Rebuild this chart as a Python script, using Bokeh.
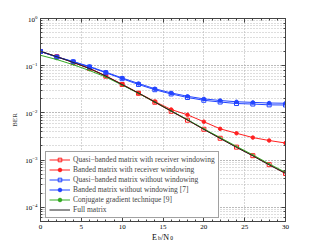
from bokeh.plotting import figure
from bokeh.models import (LinearAxis, LogAxis, SingleIntervalTicker, CustomJSTickFormatter,
                          FixedTicker, Legend, LogTicker)
from bokeh.embed import file_html
from bokeh.resources import INLINE

snr = [0, 2, 4, 6, 8, 10, 12, 14, 16, 18, 20, 22, 24, 26, 28, 30]

quasi_win = [0.2, 0.155, 0.117, 0.087, 0.060, 0.040, 0.026, 0.0168, 0.0108, 0.0070,
             0.0045, 0.0029, 0.00188, 0.00124, 0.00080, 0.00052]
banded_win = [0.2, 0.156, 0.119, 0.088, 0.061, 0.0405, 0.0265, 0.0174, 0.0118, 0.0091,
              0.0065, 0.0046, 0.0037, 0.0030, 0.0026, 0.0023]
quasi_nowin = [0.2, 0.152, 0.121, 0.094, 0.071, 0.053, 0.040, 0.031, 0.0252, 0.0212,
               0.0185, 0.0170, 0.0158, 0.0154, 0.0148, 0.0147]
banded_nowin = [0.2, 0.154, 0.123, 0.096, 0.073, 0.055, 0.042, 0.0325, 0.0265, 0.0225,
                0.0198, 0.0183, 0.0172, 0.0167, 0.0162, 0.0160]
conj_grad = [0.166, 0.135, 0.105, 0.079, 0.0575, 0.039, 0.026, 0.017, 0.011, 0.0072,
             0.0046, 0.0030, 0.00195, 0.00129, 0.00083, 0.00055]
full_matrix = [0.2018, 0.155, 0.1175, 0.0871, 0.0603, 0.0398, 0.0263, 0.0170, 0.01096,
               0.00708, 0.00447, 0.00288, 0.00186, 0.00123, 0.00079, 0.000525]

labels = ["Quasi\u2212banded matrix with receiver windowing",
          "Banded matrix with receiver windowing",
          "Quasi\u2212banded matrix without windowing",
          "Banded matrix without windowing [7]",
          "Conjugate gradient technique [9]",
          "Full matrix"]

# x-axis title "E_b/N_0" split into main text and subscripts
xlabel_main = ["E", "/N"]
xlabel_main_pos = [13.95, 15.25]
xlabel_sub = ["b", "0"]
xlabel_sub_pos = [14.55, 16.05]

RED = "#ff2020"
BLUE = "#2244ff"
GREEN = "#33aa22"
BLACK = "#222222"
FONT = "Liberation Serif"

p = figure(width=300, height=246, y_axis_type="log", x_range=(0, 30), y_range=(5e-5, 1),
           output_backend="svg", toolbar_location=None,
           min_border_left=40, min_border_right=15, min_border_top=18, min_border_bottom=25)
p.background_fill_color = "white"
p.border_fill_color = "white"
p.outline_line_color = "#444444"

r1l = p.line(snr, quasi_win, color=RED, line_width=1)
r1m = p.scatter(snr, quasi_win, marker="square", size=4, line_color=RED, fill_color=None, line_width=1)
r2l = p.line(snr, banded_win, color=RED, line_width=1)
r2m = p.scatter(snr, banded_win, marker="circle", size=3.5, line_color=RED, fill_color=RED)
r3l = p.line(snr, quasi_nowin, color=BLUE, line_width=1)
r3m = p.scatter(snr, quasi_nowin, marker="square", size=4, line_color=BLUE, fill_color=None, line_width=1)
r4l = p.line(snr, banded_nowin, color=BLUE, line_width=1)
r4m = p.scatter(snr, banded_nowin, marker="circle", size=3.5, line_color=BLUE, fill_color=BLUE)
r5l = p.line(snr, conj_grad, color=GREEN, line_width=1)
r5m = p.scatter(snr, conj_grad, marker="circle", size=1, line_color=GREEN, fill_color=GREEN)
r6l = p.line(snr, full_matrix, color=BLACK, line_width=1)

legend = Legend(items=[(labels[0], [r1l, r1m]), (labels[1], [r2l, r2m]),
                       (labels[2], [r3l, r3m]), (labels[3], [r4l, r4m]),
                       (labels[4], [r5l, r5m]), (labels[5], [r6l])],
                location=(5, 3))
legend.label_text_font = FONT
legend.label_text_font_size = "7.5px"
legend.label_height = 9
legend.glyph_height = 9
legend.glyph_width = 21
legend.spacing = 1
legend.padding = 3
legend.margin = 0
legend.label_standoff = 3
legend.border_line_color = "#444444"
legend.border_line_width = 1
legend.background_fill_alpha = 1
p.add_layout(legend)

# axes styling
for ax in [p.xaxis[0], p.yaxis[0]]:
    ax.major_label_text_font = FONT
    ax.major_label_text_font_size = "7px"
    ax.major_label_text_color = "black"
    ax.axis_line_color = "#444444"
    ax.major_tick_line_color = "#444444"
    ax.minor_tick_line_color = "#444444"
    ax.major_tick_in = 4
    ax.major_tick_out = 0
    ax.minor_tick_in = 2
    ax.minor_tick_out = 0
    ax.major_label_standoff = 3

p.xaxis.ticker = SingleIntervalTicker(interval=5)
p.yaxis.axis_label = "BER"
p.yaxis.axis_label_text_font = FONT
p.yaxis.axis_label_text_font_size = "7px"
p.yaxis.axis_label_text_font_style = "normal"
p.yaxis.axis_label_standoff = 3

blank = CustomJSTickFormatter(code="return ''")
top = LinearAxis(ticker=SingleIntervalTicker(interval=5), formatter=blank)
right = LogAxis(ticker=LogTicker(), formatter=blank)
for ax in [top, right]:
    ax.axis_line_color = "#444444"
    ax.major_tick_line_color = "#444444"
    ax.minor_tick_line_color = "#444444"
    ax.major_tick_in = 4
    ax.major_tick_out = 0
    ax.minor_tick_in = 2
    ax.minor_tick_out = 0
    ax.major_label_standoff = 0
p.add_layout(top, "above")
p.add_layout(right, "right")

# x-axis title built from two label-only axes (main text and subscripts)
pick = ("for (let i = 0; i < pos.length; i++) { if (Math.abs(tick - pos[i]) < 1e-6) return txt[i]; } return '';")
title_main = LinearAxis(ticker=FixedTicker(ticks=xlabel_main_pos, minor_ticks=[]),
                        formatter=CustomJSTickFormatter(args=dict(pos=xlabel_main_pos, txt=xlabel_main), code=pick))
title_sub = LinearAxis(ticker=FixedTicker(ticks=xlabel_sub_pos, minor_ticks=[]),
                       formatter=CustomJSTickFormatter(args=dict(pos=xlabel_sub_pos, txt=xlabel_sub), code=pick))
for ax, fs, so in [(title_main, "8px", 1), (title_sub, "5.5px", -10)]:
    ax.axis_line_color = None
    ax.major_tick_line_color = None
    ax.minor_tick_line_color = None
    ax.major_tick_in = 0
    ax.major_tick_out = 0
    ax.minor_tick_in = 0
    ax.minor_tick_out = 0
    ax.major_label_text_font = FONT
    ax.major_label_text_font_size = fs
    ax.major_label_text_color = "black"
    ax.major_label_standoff = so
p.add_layout(title_main, "below")
p.add_layout(title_sub, "below")

# grid
p.xgrid.ticker = SingleIntervalTicker(interval=5)
for g in [p.xgrid[0], p.ygrid[0]]:
    g.grid_line_color = "#aaaaaa"
    g.grid_line_dash = "1 2"
    g.grid_line_width = 1
p.ygrid.minor_grid_line_color = "#bbbbbb"
p.ygrid.minor_grid_line_dash = "1 2"

open("out.html", "w").write(file_html(p, INLINE))
